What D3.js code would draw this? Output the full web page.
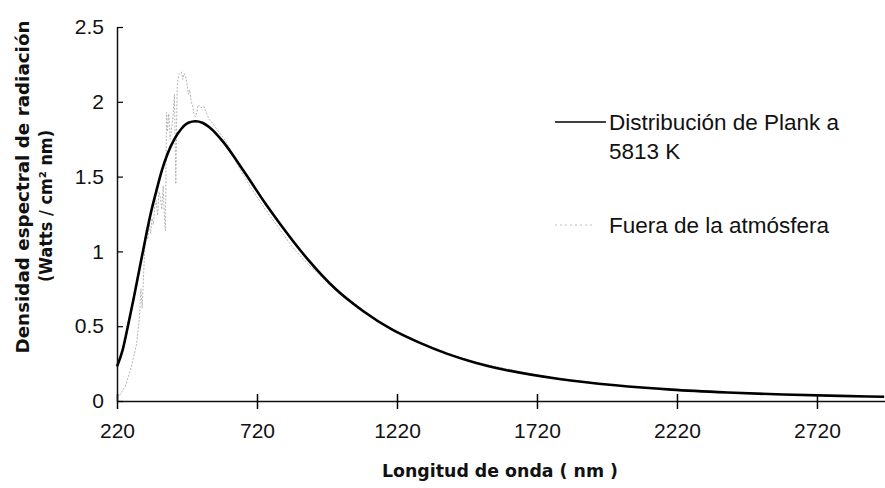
<!doctype html>
<html lang="es">
  <head>
    <meta charset="UTF-8" />
    <title>Densidad espectral de radiación</title>
    <script src="https://cdn.jsdelivr.net/npm/d3@7"></script>
    <style>
      body { margin: 0; background: #fff; }
      .tick-label { font-family: "Liberation Sans Narrow", "Arial Narrow", "Liberation Sans", sans-serif; font-size: 21px; fill: #111; }
      .axis-title { font-family: "DejaVu Sans", sans-serif; font-weight: bold; font-size: 17px; fill: #111; }
      .legend-text { font-family: "Liberation Sans Narrow", "Arial Narrow", "Liberation Sans", sans-serif; font-size: 22.5px; fill: #111; }
    </style>
  </head>
  <body>
    <div id="chart"></div>
    <script>
      // wavelength (nm) and spectral density
      const plankNm = [220, 240, 260, 280, 300, 320, 340, 360, 380, 400, 425, 450, 475, 500, 525, 550, 600, 650, 700, 750, 800, 900, 1000, 1100, 1200, 1300, 1400, 1500, 1600, 1800, 2000, 2200, 2400, 2600, 2800, 2960];
      const plankVal = [0.23, 0.34, 0.51, 0.69, 0.88, 1.07, 1.25, 1.40, 1.54, 1.65, 1.75, 1.82, 1.86, 1.87, 1.86, 1.83, 1.73, 1.60, 1.46, 1.32, 1.19, 0.95, 0.75, 0.60, 0.48, 0.39, 0.315, 0.256, 0.211, 0.147, 0.105, 0.076, 0.057, 0.043, 0.034, 0.028];

      const atmNm = [220, 230, 240, 250, 260, 270, 280, 290, 300, 305, 310, 315, 320, 325, 330, 335, 340, 345, 350, 355, 360, 365, 370, 375, 380, 385, 390, 393, 397, 400, 405, 410, 420, 425, 430, 435, 440, 450, 455, 460, 465, 470, 475, 480, 485, 490, 495, 500, 505, 510, 520, 530, 540, 550, 560, 575, 600, 625, 650, 675, 700, 750, 800, 850, 900, 950, 1000, 1100, 1200, 1300, 1400, 1500, 1600, 1700, 1800, 2000, 2200, 2400, 2600, 2800, 2960];
      const atmVal = [0.02, 0.04, 0.07, 0.10, 0.16, 0.22, 0.30, 0.38, 0.55, 0.75, 0.62, 0.85, 1.05, 1.15, 1.08, 1.19, 1.12, 1.22, 1.18, 1.30, 1.34, 1.24, 1.40, 1.36, 1.28, 1.44, 1.20, 1.14, 1.93, 1.80, 1.92, 1.75, 1.90, 2.05, 1.45, 2.10, 2.18, 2.20, 2.15, 2.19, 2.17, 2.12, 2.05, 2.08, 2.00, 1.97, 1.92, 1.90, 1.93, 1.98, 1.96, 1.97, 1.92, 1.88, 1.86, 1.82, 1.76, 1.68, 1.58, 1.50, 1.42, 1.28, 1.15, 1.02, 0.92, 0.83, 0.74, 0.59, 0.48, 0.39, 0.32, 0.26, 0.22, 0.18, 0.15, 0.105, 0.077, 0.058, 0.044, 0.034, 0.028];

      const xTicks = [220, 720, 1220, 1720, 2220, 2720];
      const yTicks = [0, 0.5, 1, 1.5, 2, 2.5];

      const width = 885;
      const height = 488;

      const x = d3.scaleLinear().domain([220, 2963]).range([117, 885]);
      const y = d3.scaleLinear().domain([0, 2.5]).range([401, 27]);

      const svg = d3.select("#chart").append("svg")
        .attr("width", width)
        .attr("height", height);

      // grey series first, black on top
      const atmData = atmNm.map((d, i) => [d, atmVal[i]]);
      const plankData = plankNm.map((d, i) => [d, plankVal[i]]);

      const line = d3.line().x(d => x(d[0])).y(d => y(d[1]));

      svg.append("path")
        .datum(atmData)
        .attr("fill", "none")
        .attr("stroke", "#b4b4b4")
        .attr("stroke-width", 1)
        .attr("stroke-dasharray", "2,1.5")
        .attr("d", line);

      svg.append("path")
        .datum(plankData)
        .attr("fill", "none")
        .attr("stroke", "#000")
        .attr("stroke-width", 2.6)
        .attr("d", line.curve(d3.curveMonotoneX));

      // axes
      const xAxis = d3.axisBottom(x).tickValues(xTicks).tickFormat(d => String(d)).tickSize(8).tickSizeOuter(0);
      const gx = svg.append("g")
        .attr("transform", `translate(0,${y(0)})`)
        .call(xAxis);
      gx.select(".domain").attr("stroke", "#111").attr("stroke-width", 1.3);
      gx.selectAll(".tick line").attr("y1", -7).attr("stroke-width", 1.5);
      gx.selectAll(".tick text").attr("class", "tick-label").attr("y", 22).attr("dy", "0.71em").attr("font-size", null).attr("font-family", null);

      const yAxis = d3.axisLeft(y).tickValues(yTicks).tickFormat(d => String(d)).tickSize(6).tickSizeOuter(0);
      const gy = svg.append("g")
        .attr("transform", `translate(${x(220)},0)`)
        .call(yAxis);
      gy.select(".domain").attr("stroke", "#111").attr("stroke-width", 1.5);
      gy.selectAll(".tick line").attr("x2", 6).attr("stroke-width", 1.2);
      gy.selectAll(".tick text").attr("class", "tick-label").attr("x", -13).attr("font-size", null).attr("font-family", null);
      svg.selectAll(".tick text").attr("fill", "#111");

      // axis titles
      svg.append("text")
        .attr("class", "axis-title")
        .attr("transform", "translate(29,187) rotate(-90)")
        .attr("text-anchor", "middle")
        .attr("textLength", 333)
        .attr("lengthAdjust", "spacingAndGlyphs")
        .text("Densidad espectral de radiación");

      svg.append("text")
        .attr("class", "axis-title")
        .attr("transform", "translate(52,206) rotate(-90)")
        .attr("text-anchor", "middle")
        .attr("textLength", 152)
        .attr("lengthAdjust", "spacingAndGlyphs")
        .text("(Watts / cm² nm)");

      svg.append("text")
        .attr("class", "axis-title")
        .attr("x", 500)
        .attr("y", 477)
        .attr("text-anchor", "middle")
        .attr("textLength", 236)
        .attr("lengthAdjust", "spacingAndGlyphs")
        .text("Longitud de onda ( nm )");

      // legend
      const legend = svg.append("g").attr("id", "legend");
      legend.append("line")
        .attr("x1", 555).attr("x2", 606)
        .attr("y1", 122).attr("y2", 122)
        .attr("stroke", "#000").attr("stroke-width", 1.4);
      legend.append("text").attr("class", "legend-text")
        .attr("x", 609).attr("y", 130).text("Distribución de Plank a");
      legend.append("text").attr("class", "legend-text")
        .attr("x", 609).attr("y", 159).text("5813 K");

      legend.append("line")
        .attr("x1", 555).attr("x2", 592)
        .attr("y1", 225).attr("y2", 225)
        .attr("stroke", "#bdbdbd").attr("stroke-width", 1)
        .attr("stroke-dasharray", "2,3");
      legend.append("text").attr("class", "legend-text")
        .attr("x", 609).attr("y", 233).text("Fuera de la atmósfera");
    </script>
  </body>
</html>
